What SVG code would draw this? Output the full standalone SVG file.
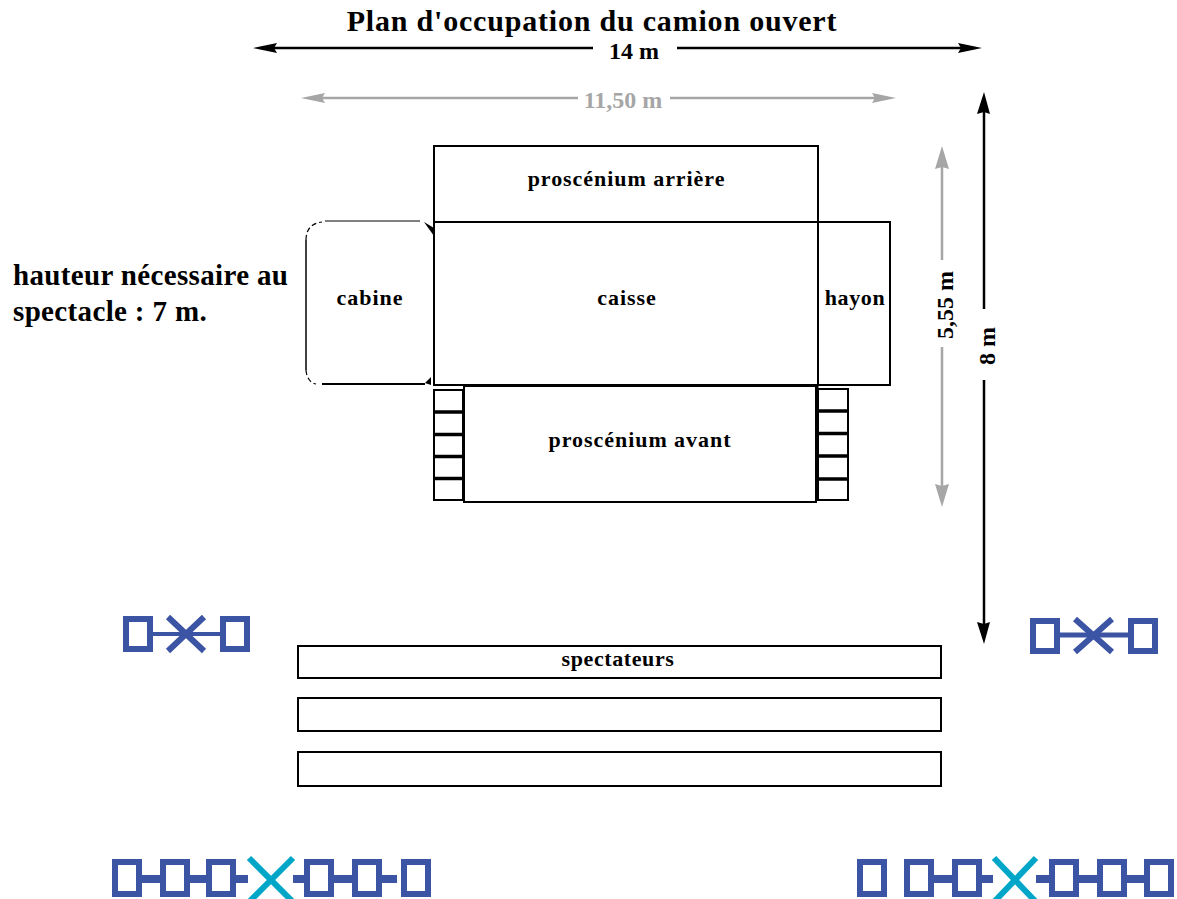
<svg xmlns="http://www.w3.org/2000/svg" width="1177" height="899" viewBox="0 0 1177 899">
<style>
.t{font-family:"Liberation Serif","Times New Roman",serif;font-weight:bold;fill:#000}
.n{font-size:22px;text-anchor:middle;letter-spacing:.95px}
.m{letter-spacing:.6px}
.h{font-size:29px;letter-spacing:.35px}
.b{fill:#fff;stroke:#000;stroke-width:2}
.s{fill:#fff;stroke:#3c54a4;stroke-width:6}
.l{stroke:#3c54a4;fill:none}
.x{stroke:#00a6c8;stroke-width:6;fill:none}
.k{stroke:#000;stroke-width:2.500;fill:none}
.g{stroke:#a6a6a6;stroke-width:2.500;fill:none}
.gf{fill:#a6a6a6}
.c{fill:none;stroke:#000}
</style>
<rect width="1177" height="899" fill="#fff"/>
<text class="t" x="592" y="31" font-size="30" text-anchor="middle" letter-spacing=".8">Plan d'occupation du camion ouvert</text>

<g id="connectors">
<path class="k" d="M270 48H593M677 48H970"/>
<path d="M253 48L277 43L274 48L277 53Z"/><path d="M982 48L958 43L961 48L958 53Z"/>
<path class="g" d="M318 98H578M670 98H880"/>
<path class="gf" d="M301 98L325 93L322 98L325 103Z"/><path class="gf" d="M896 98L872 93L875 98L872 103Z"/>
<path class="g" d="M942 160V260M942 347V495"/>
<path class="gf" d="M942 146L949 169L942 167L935 169Z"/><path class="gf" d="M942 507L949 484L942 486L935 484Z"/>
<path class="k" d="M984 105V309M984 380V630"/>
<path d="M984 92L990 114L984 112L977 114Z"/><path d="M984 644L990 622L984 624L977 622Z"/>
</g>

<g id="proscenium-arriere"><rect class="b" x="434" y="146" width="384" height="76"/><text class="t n" x="626.500" y="186">proscénium arrière</text></g>
<g id="cabine">
<path fill="#fff" d="M322 222H424L434 232V385H322L306 372V238Z"/>
<path class="c" stroke-width="1" d="M325 221H420"/>
<path class="c" stroke-width="1.500" d="M306 240V370"/>
<path class="c" stroke-width="2" d="M322 384H425"/>
<path class="c" stroke-width="1.200" stroke-dasharray="5 3" d="M306 240Q306 224 322 222M306 370Q307 382 316 384"/>
<path d="M424 222L434 228V236Z"/><path d="M425 383L431 377V385Z"/>
<text class="t n" x="370" y="305">cabine</text></g>
<g id="caisse"><rect class="b" x="434" y="222" width="384" height="163"/><text class="t n" x="627" y="305">caisse</text></g>
<g id="hayon"><rect class="b" x="818" y="222" width="72" height="163"/><text class="t n m" x="855" y="305">hayon</text></g>

<g id="marches-gauche">
<rect class="b" x="434" y="390" width="29" height="110"/>
<path d="M434 412H463M434 434.500H463M434 456.500H463M434 478.500H463" stroke="#000" stroke-width="3.500" fill="none"/>
</g>
<g id="marches-droite">
<rect class="b" x="818" y="389" width="30" height="111"/>
<path d="M818 411H848M818 433.500H848M818 456H848M818 479H848" stroke="#000" stroke-width="3.500" fill="none"/>
</g>
<g id="proscenium-avant"><rect class="b" x="464" y="386" width="352" height="116"/><path d="M817 386V501" stroke="#000" stroke-width="3" fill="none"/><text class="t n" x="640" y="447">proscénium avant</text></g>

<text class="t h" x="13" y="285">hauteur nécessaire au</text>
<text class="t h" x="13" y="321">spectacle : 7 m.</text>

<text class="t" x="634" y="59" font-size="24" text-anchor="middle">14 m</text>
<text class="t" x="623" y="108" font-size="24" text-anchor="middle" style="fill:#a6a6a6">11,50 m</text>
<text class="t" font-size="24" text-anchor="middle" transform="translate(953 305) rotate(-90)">5,55 m</text>
<text class="t" font-size="24" text-anchor="middle" transform="translate(995 346) rotate(-90)">8 m</text>

<g id="spectateurs-1"><rect class="b" x="298" y="646" width="643" height="32"/><text class="t n m" x="618" y="666">spectateurs</text></g>
<g id="spectateurs-2"><rect class="b" x="298" y="698" width="643" height="33"/></g>
<g id="spectateurs-3"><rect class="b" x="298" y="752" width="643" height="34"/></g>

<g id="feu-gauche">
<path class="l" stroke-width="4" d="M150 634H222"/>
<path class="l" stroke-width="6" d="M168 617L204 651M204 617L168 651"/>
<rect class="s" x="126" y="619" width="24" height="30"/><rect class="s" x="223" y="619" width="24" height="30"/>
</g>
<g id="feu-droite">
<path class="l" stroke-width="5" d="M1058 635H1135"/>
<path class="l" stroke-width="6" d="M1075 619L1112 652M1112 619L1075 652"/>
<rect class="s" x="1033" y="621" width="24" height="30"/><rect class="s" x="1131" y="621" width="24" height="30"/>
</g>

<g id="rampe-gauche">
<path class="l" stroke-width="8" d="M140 879H162M188 879H208M234 879H248M293 879H308M334 879H354M380 879H397"/>
<path class="x" d="M249 858L293 902M293 858L249 902"/>
<rect class="s" x="115" y="862" width="24" height="32"/><rect class="s" x="163" y="862" width="24" height="32"/><rect class="s" x="209" y="862" width="24" height="32"/>
<rect class="s" x="307" y="862" width="24" height="32"/><rect class="s" x="355" y="862" width="24" height="32"/><rect class="s" x="404" y="862" width="24" height="32"/>
</g>
<g id="rampe-droite">
<path class="l" stroke-width="8" d="M930 879H953M979 879H993M1036 879H1052M1077 879H1100M1125 879H1147"/>
<path class="x" d="M994 858L1036 902M1036 858L994 902"/>
<rect class="s" x="860" y="862" width="24" height="32"/><rect class="s" x="907" y="862" width="24" height="32"/><rect class="s" x="955" y="862" width="24" height="32"/>
<rect class="s" x="1052" y="862" width="24" height="32"/><rect class="s" x="1100" y="862" width="24" height="32"/><rect class="s" x="1147" y="862" width="24" height="32"/>
</g>
</svg>
